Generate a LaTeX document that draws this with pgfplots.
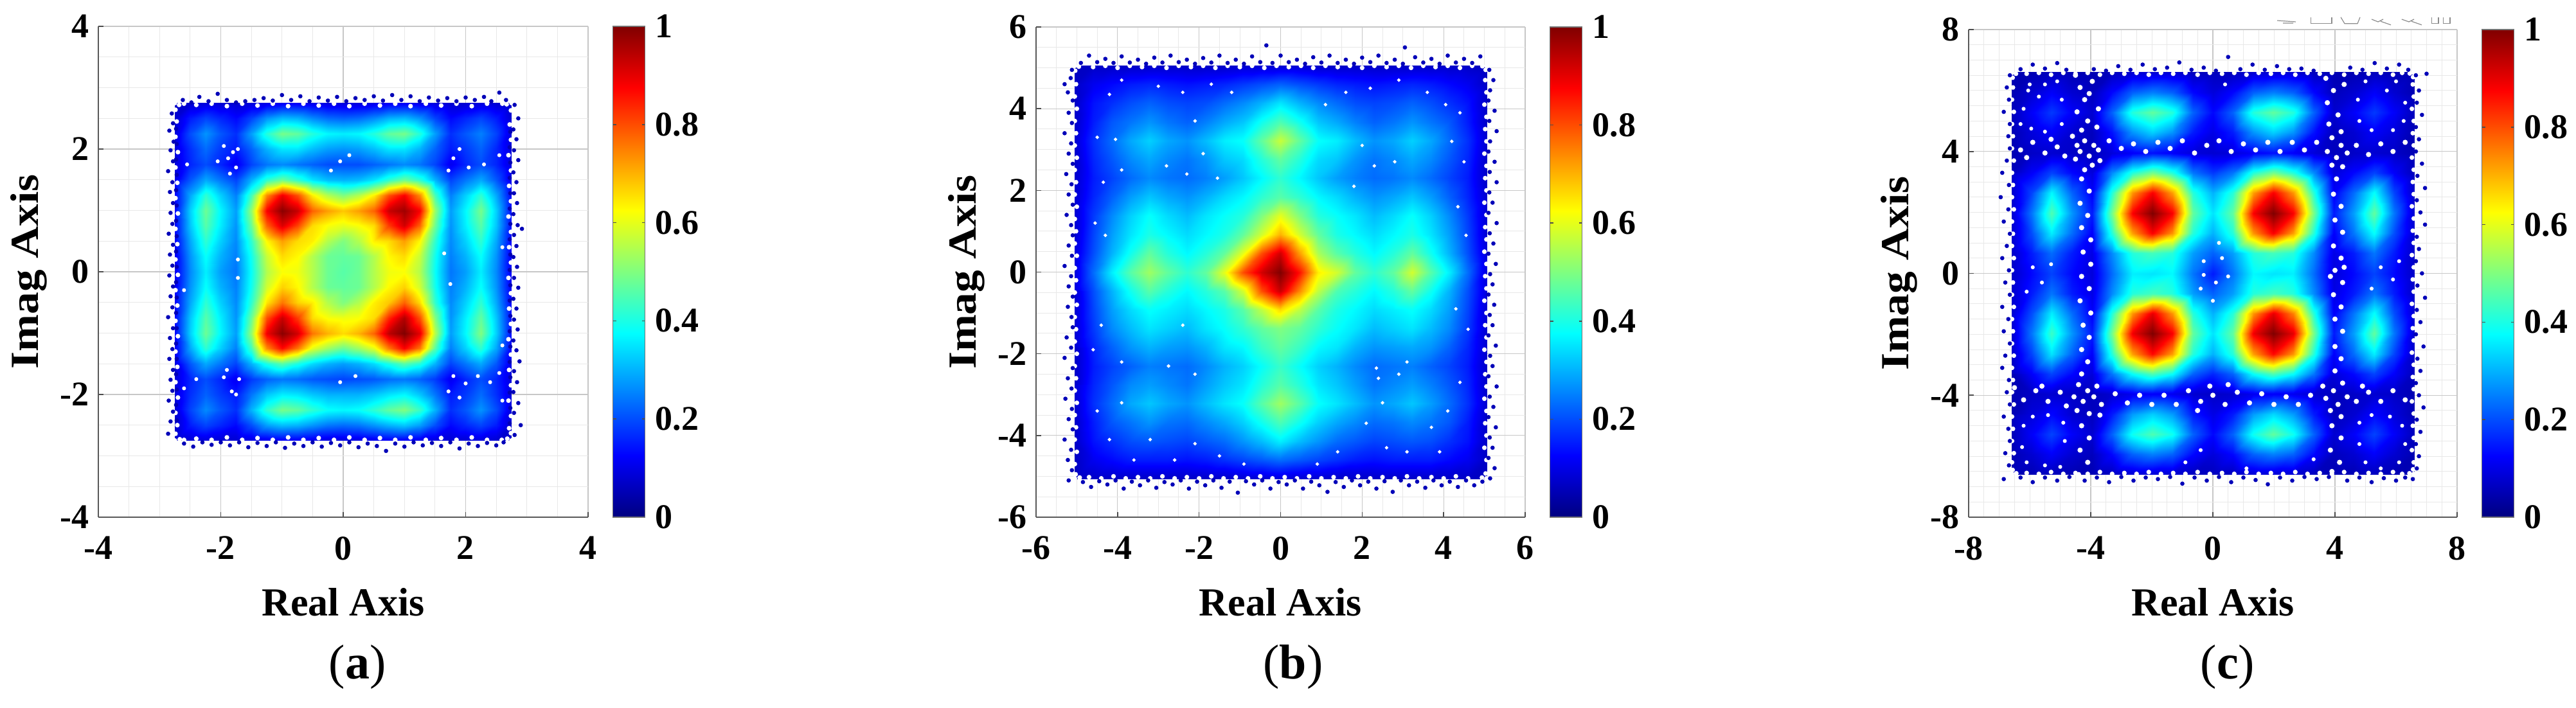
\documentclass[border=0pt]{standalone}
\usepackage{fontspec}
\setmainfont{Liberation Serif}
\usepackage{pgfplots}
\pgfplotsset{compat=1.18}
\pgfkeys{/pgf/number format/assume math mode=true}
\definecolor{edge}{rgb}{0,0,0.72}
\newcommand{\tickf}{\bfseries\fontsize{13.5}{14}\selectfont}
\newcommand{\labf}{\bfseries\fontsize{15.5}{16}\selectfont}
\pgfplotsset{
  every tick label/.append style={font=\tickf},
  cons/.style={
    scale only axis, colormap/jet, point meta min=0, point meta max=1,
    axis x line*=bottom, axis y line*=left,
    axis line style={black!65, line width=0.55pt},
    tick style={black!70, line width=0.4pt}, tick align=inside,
    major tick length=2pt, minor tick length=0pt,
    grid=both, major grid style={black!22, line width=0.3pt},
    minor grid style={black!9, line width=0.25pt},
    xlabel={Real Axis}, ylabel={\scalebox{1.12}[1]{Imag Axis}},
    every axis x label/.style={at={(axis description cs:0.5,0)},anchor=center,yshift=-33pt,font=\labf},
    every axis y label/.style={at={(axis description cs:0,0.5)},rotate=90,anchor=center,yshift=27pt,font=\labf},
    xticklabel style={yshift=-4pt},
    colorbar,
    colorbar style={at={(1.051,1)}, anchor=north west, width=12.5pt,
      ytick={0,0.2,0.4,0.6,0.8,1}, major tick length=1.2pt, tick align=inside,
      axis line style={black!55, line width=0.3pt},
      yticklabel style={xshift=0.5pt,/pgf/number format/fixed,/pgf/number format/precision=1}},
  },
  dots/.style={only marks, mark=*, mark size=0.62pt, color=edge, mark options={draw=none}},
  specks/.style={only marks, mark=*, mark size=0.55pt, color=white, mark options={draw=none}},
}
\begin{document}
\begin{tikzpicture}[x=1pt,y=1pt]
\path[use as bounding box] (0,0) rectangle (1002,275.5);

% (a) grid step 0.25, rows from y=2.75 down to -2.75
\begin{axis}[cons, at={(38.25pt,74.25pt)}, anchor=south west, width=190.5pt, height=191pt,
  xmin=-4, xmax=4, ymin=-4, ymax=4, xtick={-4,-2,0,2,4}, ytick={-4,-2,0,2,4}, minor tick num=3]
\addplot[surf, shader=interp, mesh/cols=23, point meta=explicit] table[row sep=crcr, header=false, meta index=0,
  x expr={-2.75+0.25*mod(\coordindex,23)}, y expr={2.75-0.25*floor(\coordindex/23)}] {
.07\\.08\\.09\\.08\\.08\\.09\\.10\\.11\\.11\\.10\\.09\\.09\\.09\\.10\\.11\\.11\\.10\\.09\\.08\\.08\\.09\\.08\\.07\\
.08\\.15\\.19\\.16\\.13\\.19\\.27\\.31\\.30\\.26\\.23\\.22\\.23\\.26\\.30\\.31\\.27\\.19\\.13\\.16\\.19\\.15\\.08\\
.09\\.20\\.27\\.21\\.17\\.28\\.41\\.49\\.47\\.41\\.37\\.36\\.37\\.41\\.47\\.49\\.41\\.28\\.17\\.21\\.25\\.19\\.09\\
.09\\.17\\.23\\.18\\.15\\.22\\.30\\.35\\.35\\.31\\.28\\.27\\.28\\.31\\.35\\.35\\.30\\.22\\.15\\.18\\.22\\.16\\.09\\
.09\\.16\\.20\\.16\\.11\\.19\\.24\\.26\\.24\\.22\\.20\\.20\\.20\\.22\\.24\\.26\\.24\\.19\\.11\\.16\\.20\\.16\\.09\\
.10\\.21\\.29\\.24\\.19\\.30\\.42\\.48\\.42\\.35\\.31\\.30\\.31\\.35\\.42\\.48\\.42\\.30\\.19\\.24\\.29\\.21\\.10\\
.12\\.29\\.42\\.33\\.25\\.44\\.74\\.89\\.80\\.64\\.55\\.50\\.55\\.64\\.80\\.88\\.74\\.44\\.25\\.33\\.42\\.29\\.12\\
.13\\.33\\.48\\.37\\.28\\.52\\.88\\.99\\.93\\.78\\.72\\.68\\.72\\.78\\.93\\.97\\.88\\.52\\.28\\.37\\.49\\.33\\.13\\
.13\\.32\\.46\\.36\\.27\\.48\\.78\\.91\\.81\\.66\\.62\\.60\\.62\\.66\\.82\\.92\\.78\\.48\\.27\\.36\\.46\\.32\\.13\\
.12\\.29\\.42\\.33\\.26\\.42\\.63\\.72\\.66\\.64\\.55\\.50\\.55\\.64\\.66\\.72\\.63\\.42\\.26\\.33\\.42\\.29\\.12\\
.11\\.27\\.38\\.30\\.25\\.39\\.57\\.66\\.63\\.55\\.48\\.47\\.48\\.55\\.63\\.66\\.57\\.39\\.25\\.30\\.38\\.27\\.11\\
.11\\.26\\.36\\.28\\.24\\.38\\.55\\.62\\.61\\.55\\.48\\.46\\.48\\.55\\.61\\.62\\.55\\.38\\.24\\.28\\.36\\.26\\.11\\
.11\\.27\\.38\\.30\\.25\\.39\\.58\\.67\\.63\\.55\\.48\\.47\\.48\\.55\\.63\\.67\\.58\\.39\\.25\\.30\\.38\\.27\\.11\\
.12\\.29\\.42\\.33\\.26\\.42\\.65\\.76\\.67\\.64\\.55\\.50\\.55\\.64\\.68\\.78\\.66\\.42\\.26\\.33\\.42\\.29\\.12\\
.13\\.32\\.46\\.36\\.27\\.48\\.80\\.93\\.82\\.66\\.62\\.61\\.62\\.66\\.84\\.95\\.80\\.50\\.27\\.36\\.47\\.32\\.13\\
.13\\.33\\.48\\.37\\.28\\.52\\.89\\.99\\.92\\.76\\.70\\.66\\.70\\.78\\.94\\1.0\\.90\\.55\\.28\\.37\\.50\\.33\\.13\\
.12\\.29\\.42\\.33\\.25\\.44\\.74\\.87\\.76\\.60\\.53\\.48\\.53\\.60\\.76\\.88\\.76\\.46\\.25\\.33\\.42\\.29\\.12\\
.10\\.21\\.29\\.24\\.19\\.30\\.40\\.46\\.40\\.34\\.30\\.28\\.30\\.34\\.40\\.46\\.41\\.30\\.19\\.24\\.29\\.21\\.10\\
.09\\.16\\.20\\.16\\.11\\.18\\.22\\.24\\.23\\.21\\.20\\.19\\.20\\.21\\.23\\.24\\.22\\.18\\.11\\.16\\.20\\.16\\.09\\
.09\\.17\\.22\\.18\\.15\\.24\\.32\\.36\\.35\\.32\\.30\\.30\\.30\\.32\\.35\\.37\\.32\\.24\\.15\\.18\\.23\\.17\\.09\\
.09\\.19\\.26\\.21\\.17\\.30\\.42\\.49\\.47\\.42\\.38\\.37\\.38\\.42\\.47\\.50\\.43\\.30\\.17\\.21\\.27\\.20\\.09\\
.08\\.15\\.19\\.16\\.13\\.20\\.28\\.31\\.30\\.27\\.24\\.23\\.24\\.27\\.30\\.32\\.28\\.20\\.13\\.16\\.19\\.15\\.08\\
.07\\.08\\.09\\.08\\.08\\.09\\.10\\.11\\.11\\.10\\.09\\.09\\.09\\.10\\.11\\.11\\.10\\.09\\.08\\.08\\.09\\.08\\.07\\
};
\addplot[specks, mark size=0.7pt] coordinates {(-2.75,2.75)(-2.68,2.72)(-2.74,2.64)(-2.6,2.74)(2.75,2.75)(2.67,2.73)(2.74,2.63)(2.6,2.74)(-2.75,-2.75)(-2.67,-2.73)(-2.74,-2.64)(-2.6,-2.74)(2.75,-2.75)(2.68,-2.72)(2.74,-2.63)(2.59,-2.74)
(-2.72,2.45)(-2.74,2.2)(-2.7,1.95)(-2.74,1.7)(-2.71,1.45)(-2.74,1.2)(-2.7,0.95)(-2.74,0.7)(-2.71,0.45)(-2.74,0.2)(-2.7,-0.05)(-2.74,-0.3)(-2.71,-0.55)(-2.74,-0.8)(-2.7,-1.05)(-2.74,-1.3)(-2.71,-1.55)(-2.74,-1.8)(-2.7,-2.05)(-2.74,-2.3)(-2.71,-2.5)
(2.72,2.4)(2.74,2.15)(2.7,1.9)(2.74,1.65)(2.71,1.4)(2.74,1.15)(2.7,0.9)(2.74,0.65)(2.71,0.4)(2.74,0.15)(2.7,-0.1)(2.74,-0.35)(2.71,-0.6)(2.74,-0.85)(2.7,-1.1)(2.74,-1.35)(2.71,-1.6)(2.74,-1.85)(2.7,-2.1)(2.74,-2.35)(2.71,-2.55)
(-2.4,2.72)(-2.15,2.74)(-1.9,2.7)(-1.65,2.74)(-1.4,2.71)(-1.15,2.74)(-0.9,2.7)(-0.65,2.74)(-0.4,2.71)(-0.15,2.74)(0.1,2.7)(0.35,2.74)(0.6,2.71)(0.85,2.74)(1.1,2.7)(1.35,2.74)(1.6,2.71)(1.85,2.74)(2.1,2.7)(2.35,2.74)
(-2.4,-2.72)(-2.15,-2.74)(-1.9,-2.7)(-1.65,-2.74)(-1.4,-2.71)(-1.15,-2.74)(-0.9,-2.7)(-0.65,-2.74)(-0.4,-2.71)(-0.15,-2.74)(0.1,-2.7)(0.35,-2.74)(0.6,-2.71)(0.85,-2.74)(1.1,-2.7)(1.35,-2.74)(1.6,-2.71)(1.85,-2.74)(2.1,-2.7)(2.35,-2.74)};
\addplot[specks] coordinates {(-1.88,1.85)(-1.75,1.7)(-1.8,1.95)(-1.72,2.0)(-2.05,1.8)(-1.85,1.6)(-1.95,2.05)(-1.7,-1.75)(-1.82,-1.95)(-1.95,-1.72)(-1.75,-2)(-1.9,-1.6)(-2.4,-1.75)(-2.6,-1.9)(-2.55,1.75)
(1.8,1.85)(2.05,1.7)(1.9,2.0)(2.3,1.75)(2.55,1.9)(1.72,1.65)(1.8,-1.7)(2.0,-1.82)(2.2,-1.7)(1.9,-2.05)(2.4,-1.8)(2.55,-1.65)(2.6,-2.1)(1.72,-1.95)
(-0.05,1.8)(-0.2,1.65)(0.1,1.9)(-0.05,-1.8)(0.2,-1.7)(-1.72,-0.1)(1.75,-0.2)(1.65,0.3)(-1.72,0.2)(2.6,-1.2)(-2.6,-0.3)(2.6,0.4)};
\addplot[dots] coordinates {(-2.8,2.58)(-2.78,2.42)(-2.84,2.3)(-2.77,2.12)(-2.82,1.98)(-2.78,1.8)(-2.86,1.64)(-2.79,1.46)(-2.83,1.3)(-2.78,1.12)(-2.82,0.96)(-2.79,0.78)(-2.85,0.62)(-2.78,0.44)(-2.83,0.28)(-2.79,0.1)(-2.84,-0.06)(-2.78,-0.24)(-2.82,-0.4)(-2.79,-0.58)(-2.86,-0.74)(-2.78,-0.92)(-2.83,-1.08)(-2.79,-1.26)(-2.84,-1.42)(-2.78,-1.6)(-2.82,-1.76)(-2.79,-1.94)(-2.85,-2.1)(-2.78,-2.28)(-2.82,-2.44)(-2.86,-2.64)
(-2.6,-2.8)(-2.45,-2.85)(-2.3,-2.78)(-2.15,-2.82)(-2,-2.78)(-1.85,-2.83)(-1.7,-2.78)(-1.55,-2.86)(-1.4,-2.79)(-1.25,-2.84)(-1.1,-2.78)(-0.95,-2.87)(-0.8,-2.8)(-0.65,-2.84)(-0.5,-2.78)(-0.35,-2.85)(-0.2,-2.79)(-0.05,-2.83)(0.1,-2.78)(0.25,-2.86)(0.4,-2.8)(0.55,-2.84)(0.7,-2.92)(0.85,-2.8)(1,-2.85)(1.15,-2.78)(1.3,-2.83)(1.45,-2.79)(1.6,-2.84)(1.75,-2.78)(1.9,-2.88)(2.05,-2.8)(2.2,-2.84)(2.35,-2.79)(2.5,-2.83)(2.62,-2.78)
(2.8,2.72)(2.86,2.5)(2.78,2.32)(2.83,2.16)(2.79,1.98)(2.86,1.82)(2.78,1.62)(2.83,1.46)(2.79,1.28)(2.84,1.12)(2.78,0.94)(2.85,0.76)(2.79,0.6)(2.83,0.42)(2.92,0.7)(2.78,0.24)(2.84,0.08)(2.79,-0.1)(2.86,-0.26)(2.78,-0.44)(2.83,-0.6)(2.79,-0.78)(2.85,-0.94)(2.78,-1.12)(2.83,-1.28)(2.88,-1.46)(2.79,-1.62)(2.84,-1.8)(2.78,-1.96)(2.86,-2.14)(2.79,-2.3)(2.9,-2.5)(2.8,-2.66)
(-2.62,2.8)(-2.48,2.76)(-2.35,2.85)(-2.2,2.78)(-2.05,2.9)(-1.9,2.8)(-1.75,2.76)(-1.6,2.78)(-1.45,2.8)(-1.3,2.83)(-1.15,2.79)(-1,2.88)(-0.85,2.8)(-0.7,2.86)(-0.55,2.78)(-0.4,2.84)(-0.25,2.79)(-0.1,2.85)(0.05,2.78)(0.2,2.83)(0.35,2.8)(0.5,2.86)(0.65,2.79)(0.8,2.88)(0.95,2.8)(1.1,2.86)(1.25,2.78)(1.4,2.84)(1.55,2.79)(1.7,2.83)(1.85,2.78)(2,2.84)(2.15,2.8)(2.3,2.85)(2.42,2.78)(2.55,2.92)(2.66,2.8)
(-2.73,2.33)(-2.72,2.08)(-2.73,1.83)(-2.72,1.58)(-2.73,1.33)(-2.72,1.08)(-2.73,0.83)(-2.72,0.58)(-2.73,0.33)(-2.72,0.08)(-2.73,-0.17)(-2.72,-0.42)(-2.73,-0.67)(-2.72,-0.92)(-2.73,-1.17)(-2.72,-1.42)(-2.73,-1.67)(-2.72,-1.92)(-2.73,-2.17)(-2.72,-2.42)
(2.73,2.28)(2.72,2.03)(2.73,1.78)(2.72,1.53)(2.73,1.28)(2.72,1.03)(2.73,0.78)(2.72,0.53)(2.73,0.28)(2.72,0.03)(2.73,-0.22)(2.72,-0.47)(2.73,-0.72)(2.72,-0.97)(2.73,-1.22)(2.72,-1.47)(2.73,-1.72)(2.72,-1.97)(2.73,-2.22)(2.72,-2.47)};
\end{axis}
\node[font=\fontsize{19}{20}\selectfont] at (139,16) {(\textbf{a})};

% (b) grid step 0.46, rows from y=5.06 down to -5.06
\begin{axis}[cons, at={(403pt,74.25pt)}, anchor=south west, width=190.25pt, height=190.75pt,
  xmin=-6, xmax=6, ymin=-6, ymax=6, xtick={-6,-4,-2,0,2,4,6}, ytick={-6,-4,-2,0,2,4,6}, minor tick num=3]
\addplot[surf, shader=interp, mesh/cols=23, point meta=explicit] table[row sep=crcr, header=false, meta index=0,
  x expr={-5.06+0.46*mod(\coordindex,23)}, y expr={5.06-0.46*floor(\coordindex/23)}] {
.06\\.07\\.07\\.07\\.07\\.07\\.07\\.07\\.07\\.08\\.08\\.08\\.08\\.07\\.07\\.07\\.07\\.07\\.07\\.07\\.07\\.07\\.06\\
.07\\.11\\.13\\.15\\.16\\.15\\.14\\.15\\.16\\.18\\.20\\.22\\.20\\.18\\.16\\.15\\.14\\.15\\.16\\.15\\.13\\.11\\.07\\
.07\\.14\\.17\\.20\\.22\\.20\\.19\\.20\\.23\\.26\\.30\\.35\\.30\\.26\\.23\\.20\\.19\\.20\\.22\\.20\\.17\\.14\\.07\\
.07\\.15\\.21\\.24\\.27\\.24\\.22\\.25\\.29\\.32\\.39\\.45\\.39\\.32\\.29\\.25\\.22\\.24\\.27\\.24\\.21\\.15\\.07\\
.08\\.17\\.23\\.29\\.33\\.29\\.27\\.31\\.36\\.38\\.47\\.57\\.47\\.38\\.36\\.31\\.27\\.29\\.33\\.29\\.23\\.17\\.08\\
.07\\.16\\.21\\.26\\.29\\.26\\.24\\.27\\.32\\.34\\.41\\.47\\.41\\.34\\.32\\.27\\.24\\.26\\.29\\.26\\.21\\.16\\.07\\
.07\\.15\\.19\\.23\\.26\\.24\\.23\\.25\\.28\\.32\\.37\\.42\\.37\\.32\\.28\\.25\\.23\\.24\\.26\\.23\\.19\\.15\\.07\\
.08\\.16\\.22\\.28\\.32\\.29\\.27\\.30\\.34\\.37\\.42\\.46\\.42\\.37\\.34\\.30\\.27\\.29\\.32\\.28\\.22\\.16\\.08\\
.08\\.18\\.26\\.33\\.38\\.34\\.31\\.35\\.38\\.41\\.50\\.60\\.50\\.41\\.38\\.35\\.31\\.34\\.38\\.33\\.26\\.18\\.08\\
.08\\.19\\.28\\.35\\.40\\.37\\.34\\.37\\.40\\.47\\.58\\.70\\.58\\.47\\.40\\.37\\.34\\.37\\.40\\.35\\.28\\.19\\.08\\
.09\\.20\\.30\\.39\\.47\\.41\\.37\\.41\\.47\\.60\\.80\\.92\\.72\\.54\\.46\\.41\\.37\\.41\\.47\\.39\\.30\\.20\\.09\\
.09\\.23\\.36\\.46\\.53\\.47\\.42\\.47\\.60\\.80\\.92\\1.0\\.86\\.64\\.58\\.47\\.42\\.47\\.58\\.46\\.36\\.23\\.09\\
.09\\.20\\.30\\.39\\.46\\.41\\.37\\.41\\.46\\.58\\.80\\.93\\.74\\.56\\.45\\.41\\.37\\.41\\.47\\.39\\.30\\.20\\.09\\
.08\\.19\\.28\\.34\\.38\\.36\\.34\\.37\\.40\\.46\\.56\\.66\\.56\\.46\\.40\\.37\\.34\\.36\\.38\\.34\\.28\\.19\\.08\\
.08\\.18\\.26\\.31\\.35\\.33\\.31\\.35\\.38\\.42\\.47\\.50\\.47\\.42\\.38\\.35\\.31\\.33\\.35\\.31\\.26\\.18\\.08\\
.08\\.16\\.22\\.27\\.30\\.28\\.27\\.30\\.35\\.37\\.43\\.47\\.43\\.37\\.35\\.30\\.27\\.28\\.29\\.27\\.22\\.16\\.08\\
.07\\.15\\.19\\.22\\.25\\.24\\.23\\.26\\.30\\.33\\.38\\.43\\.38\\.33\\.30\\.26\\.23\\.24\\.25\\.22\\.19\\.15\\.07\\
.07\\.16\\.21\\.26\\.28\\.26\\.24\\.28\\.32\\.35\\.41\\.46\\.41\\.35\\.32\\.28\\.24\\.26\\.28\\.25\\.21\\.16\\.07\\
.08\\.17\\.23\\.29\\.32\\.29\\.27\\.31\\.35\\.38\\.46\\.53\\.46\\.38\\.35\\.31\\.27\\.29\\.32\\.28\\.23\\.17\\.08\\
.07\\.15\\.21\\.24\\.27\\.24\\.23\\.26\\.29\\.33\\.39\\.45\\.39\\.33\\.29\\.26\\.23\\.24\\.26\\.24\\.21\\.15\\.07\\
.07\\.14\\.17\\.20\\.21\\.20\\.19\\.21\\.23\\.27\\.31\\.36\\.31\\.27\\.23\\.21\\.19\\.20\\.21\\.20\\.17\\.14\\.07\\
.07\\.11\\.13\\.15\\.15\\.15\\.14\\.15\\.17\\.19\\.21\\.23\\.21\\.19\\.17\\.15\\.14\\.15\\.15\\.15\\.13\\.11\\.07\\
.06\\.07\\.07\\.07\\.07\\.07\\.07\\.07\\.07\\.08\\.08\\.09\\.08\\.08\\.07\\.07\\.07\\.07\\.07\\.07\\.07\\.07\\.06\\
};
\addplot[specks, mark size=0.7pt] coordinates {(-5.05,5.05)(-4.95,5.03)(-5.04,4.93)(4.95,5.04)(5.05,5.05)(5.03,4.95)(-5.05,-5.05)(-4.93,-5.03)(-5.03,-4.95)(5.05,-5.05)(4.94,-5.03)(5.03,-4.93)
(-5.02,4.6)(-5.05,4.3)(-5,4)(-5.05,3.7)(-5.02,3.4)(-5.05,3.1)(-5,2.8)(-5.05,2.5)(-5.02,2.2)(-5.05,1.9)(-5,1.6)(-5.05,1.3)(-5.02,1)(-5.05,0.7)(-5,0.4)(-5.05,0.1)(-5.02,-0.2)(-5.05,-0.5)(-5,-0.8)(-5.05,-1.1)(-5.02,-1.4)(-5.05,-1.7)(-5,-2)(-5.05,-2.3)(-5.02,-2.6)(-5.05,-2.9)(-5,-3.2)(-5.05,-3.5)(-5.02,-3.8)(-5.05,-4.1)(-5,-4.4)(-5.05,-4.7)
(5.02,4.7)(5.05,4.4)(5,4.1)(5.05,3.8)(5.02,3.5)(5.05,3.2)(5,2.9)(5.05,2.6)(5.02,2.3)(5.05,2)(5,1.7)(5.05,1.4)(5.02,1.1)(5.05,0.8)(5,0.5)(5.05,0.2)(5.02,-0.1)(5.05,-0.4)(5,-0.7)(5.05,-1)(5.02,-1.3)(5.05,-1.6)(5,-1.9)(5.05,-2.2)(5.02,-2.5)(5.05,-2.8)(5,-3.1)(5.05,-3.4)(5.02,-3.7)(5.05,-4)(5,-4.3)(5.05,-4.6)
(-4.6,5.02)(-4.3,5.05)(-4,5)(-3.7,5.05)(-3.4,5.02)(-3.1,5.05)(-2.8,5)(-2.5,5.05)(-2.2,5.02)(-1.9,5.05)(-1.6,5)(-1.3,5.05)(-1,5.02)(-0.7,5.05)(-0.4,5)(-0.1,5.05)(0.2,5.02)(0.5,5.05)(0.8,5)(1.1,5.05)(1.4,5.02)(1.7,5.05)(2,5)(2.3,5.05)(2.6,5.02)(2.9,5.05)(3.2,5)(3.5,5.05)(3.8,5.02)(4.1,5.05)(4.4,5)(4.7,5.05)
(-4.7,-5.02)(-4.4,-5.05)(-4.1,-5)(-3.8,-5.05)(-3.5,-5.02)(-3.2,-5.05)(-2.9,-5)(-2.6,-5.05)(-2.3,-5.02)(-2,-5.05)(-1.7,-5)(-1.4,-5.05)(-1.1,-5.02)(-0.8,-5.05)(-0.5,-5)(-0.2,-5.05)(0.1,-5.02)(0.4,-5.05)(0.7,-5)(1,-5.05)(1.3,-5.02)(1.6,-5.05)(1.9,-5)(2.2,-5.05)(2.5,-5.02)(2.8,-5.05)(3.1,-5)(3.4,-5.05)(3.7,-5.02)(4,-5.05)(4.3,-5)(4.6,-5.05)};
\addplot[specks, mark size=0.45pt] coordinates {(-4.2,4.35)(-4.5,3.3)(-4.05,3.25)(-3.9,4.7)(-3,4.55)(-2.4,4.4)(-2.1,3.7)(-1.7,4.6)(-1.2,4.4)(1.1,4.1)(1.6,4.4)(2.2,4.5)(2.9,4.7)(3.6,4.4)(4.05,4.1)(4.4,3.9)(4.2,3.2)(4.5,2.7)(2.8,2.7)(2.3,2.6)(2,3.1)(1.8,2.1)
(-3.9,2.5)(-4.35,2.2)(-2.8,2.6)(-2.3,2.4)(-1.9,2.9)(-1.55,2.3)(-4.55,1.2)(-4.3,0.9)(4.35,1.6)(4.55,0.9)(4.3,-0.9)(4.6,-1.4)(-4.4,-1.3)(-4.6,-1.9)(-3.9,-2.2)(-2.4,-1.3)(-2.75,-2.3)(-2.1,-2.5)
(2.4,-2.6)(2.5,-3.2)(2.35,-2.35)(2.9,-2.5)(3.1,-2.2)(2.1,-3.7)(2.6,-4.3)(3.1,-4.4)(3.7,-3.8)(4.1,-3.4)(4.4,-2.7)(3.9,-4.4)(-3.6,-4.6)(-3.2,-4.1)(-2.6,-4.6)(-2.1,-4.2)(-1.5,-4.5)(-4.2,-4.1)(-4.5,-3.4)(-3.9,-3.2)(1.4,-4.4)(0.9,-4.7)(-0.9,-4.7)};
\addplot[dots] coordinates {(-5.12,4.95)(-5.3,4.6)(-5.15,4.75)(-5.22,4.4)(-5.1,4.2)(-5.2,3.9)(-5.12,3.65)(-5.3,3.4)(-5.14,3.15)(-5.2,2.9)(-5.1,2.65)(-5.26,2.4)(-5.13,2.15)(-5.2,1.9)(-5.1,1.65)(-5.25,1.4)(-5.14,1.15)(-5.1,0.9)(-5.2,0.65)(-5.12,0.4)(-5.3,0.15)(-5.14,-0.1)(-5.2,-0.35)(-5.1,-0.6)(-5.22,-0.85)(-5.13,-1.1)(-5.1,-1.35)(-5.25,-1.6)(-5.14,-1.85)(-5.3,-2.1)(-5.1,-2.35)(-5.22,-2.6)(-5.13,-2.85)(-5.28,-3.1)(-5.12,-3.35)(-5.2,-3.6)(-5.1,-3.85)(-5.3,-4.1)(-5.14,-4.35)(-5.22,-4.6)(-5.12,-4.85)(-5.2,-5.1)
(5.12,4.95)(5.22,4.7)(5.14,4.45)(5.1,4.2)(5.25,3.95)(5.12,3.7)(5.3,3.45)(5.14,3.2)(5.1,2.95)(5.25,2.7)(5.13,2.45)(5.3,2.2)(5.12,1.95)(5.2,1.7)(5.1,1.45)(5.3,1.2)(5.13,0.95)(5.22,0.7)(5.1,0.45)(5.28,0.2)(5.14,-0.05)(5.2,-0.3)(5.1,-0.55)(5.24,-0.8)(5.13,-1.05)(5.2,-1.3)(5.1,-1.55)(5.28,-1.8)(5.14,-2.05)(5.2,-2.3)(5.1,-2.55)(5.3,-2.8)(5.13,-3.05)(5.22,-3.3)(5.1,-3.55)(5.28,-3.8)(5.13,-4.05)(5.2,-4.3)(5.1,-4.55)(5.25,-4.8)(5.14,-5.05)
(-4.9,5.12)(-4.7,5.3)(-4.5,5.14)(-4.3,5.22)(-4.1,5.12)(-3.9,5.28)(-3.7,5.13)(-3.5,5.2)(-3.3,5.1)(-3.1,5.25)(-2.9,5.13)(-2.7,5.3)(-2.5,5.14)(-2.3,5.2)(-2.1,5.1)(-1.9,5.24)(-1.7,5.13)(-1.5,5.3)(-1.3,5.12)(-1.1,5.2)(-0.9,5.1)(-0.7,5.28)(-0.5,5.14)(-0.35,5.55)(-0.2,5.12)(0,5.3)(0.2,5.14)(0.4,5.2)(0.6,5.1)(0.8,5.26)(1,5.13)(1.2,5.3)(1.4,5.12)(1.6,5.2)(1.8,5.1)(2,5.25)(2.2,5.14)(2.4,5.3)(2.6,5.12)(2.8,5.2)(3,5.1)(3.05,5.5)(3.3,5.26)(3.5,5.13)(3.7,5.22)(3.9,5.1)(4.1,5.3)(4.3,5.13)(4.5,5.22)(4.7,5.12)(4.9,5.28)
(-4.85,-5.14)(-4.65,-5.26)(-4.45,-5.12)(-4.25,-5.2)(-4.05,-5.1)(-3.85,-5.3)(-3.65,-5.13)(-3.45,-5.22)(-3.25,-5.1)(-3.05,-5.28)(-2.85,-5.14)(-2.65,-5.2)(-2.45,-5.1)(-2.25,-5.3)(-2.05,-5.13)(-1.85,-5.22)(-1.65,-5.1)(-1.45,-5.28)(-1.25,-5.13)(-1.05,-5.4)(-0.85,-5.12)(-0.65,-5.2)(-0.45,-5.1)(-0.25,-5.3)(-0.05,-5.14)(0.15,-5.2)(0.35,-5.1)(0.55,-5.3)(0.75,-5.13)(0.95,-5.22)(1.15,-5.38)(1.35,-5.14)(1.55,-5.26)(1.75,-5.1)(1.95,-5.22)(2.15,-5.13)(2.35,-5.3)(2.55,-5.12)(2.75,-5.38)(2.95,-5.1)(3.15,-5.22)(3.35,-5.13)(3.55,-5.28)(3.75,-5.1)(3.95,-5.22)(4.15,-5.13)(4.35,-5.26)(4.55,-5.1)(4.75,-5.22)(4.95,-5.13)};
\end{axis}
\node[font=\fontsize{19}{20}\selectfont] at (503,16) {(\textbf{b})};

% (c) grid step 0.66, rows from y=6.6 down to -6.6
\begin{axis}[cons, at={(765.75pt,74.25pt)}, anchor=south west, width=190pt, height=189.75pt,
  xmin=-8, xmax=8, ymin=-8, ymax=8, xtick={-8,-4,0,4,8}, ytick={-8,-4,0,4,8}, minor tick num=7]
\addplot[surf, shader=interp, mesh/cols=21, point meta=explicit] table[row sep=crcr, header=false, meta index=0,
  x expr={-6.6+0.66*mod(\coordindex,21)}, y expr={6.6-0.66*floor(\coordindex/21)}] {
.05\\.05\\.06\\.05\\.05\\.06\\.08\\.08\\.08\\.06\\.06\\.06\\.08\\.08\\.08\\.06\\.05\\.05\\.06\\.05\\.05\\
.05\\.08\\.12\\.08\\.06\\.13\\.22\\.25\\.22\\.13\\.09\\.13\\.22\\.25\\.22\\.13\\.06\\.08\\.12\\.08\\.05\\
.06\\.12\\.18\\.12\\.08\\.22\\.41\\.47\\.41\\.22\\.13\\.22\\.41\\.47\\.41\\.22\\.08\\.12\\.18\\.12\\.06\\
.05\\.09\\.12\\.08\\.06\\.14\\.27\\.33\\.27\\.15\\.10\\.15\\.27\\.33\\.27\\.14\\.06\\.08\\.12\\.09\\.05\\
.05\\.07\\.08\\.07\\.06\\.09\\.12\\.14\\.12\\.09\\.08\\.09\\.12\\.14\\.12\\.09\\.06\\.07\\.08\\.07\\.05\\
.06\\.12\\.19\\.13\\.09\\.26\\.41\\.49\\.41\\.24\\.18\\.24\\.41\\.49\\.41\\.26\\.09\\.13\\.19\\.12\\.06\\
.07\\.19\\.37\\.22\\.12\\.41\\.73\\.88\\.72\\.41\\.30\\.41\\.72\\.88\\.73\\.41\\.12\\.23\\.38\\.19\\.07\\
.08\\.24\\.45\\.27\\.15\\.49\\.88\\1.0\\.88\\.47\\.35\\.47\\.88\\1.0\\.88\\.49\\.15\\.28\\.47\\.24\\.08\\
.08\\.20\\.36\\.23\\.12\\.41\\.72\\.88\\.73\\.41\\.30\\.41\\.73\\.88\\.72\\.41\\.12\\.24\\.38\\.20\\.08\\
.07\\.15\\.23\\.15\\.10\\.26\\.41\\.44\\.41\\.28\\.22\\.28\\.41\\.44\\.41\\.26\\.10\\.15\\.24\\.15\\.07\\
.07\\.13\\.19\\.13\\.09\\.23\\.36\\.35\\.37\\.24\\.15\\.24\\.37\\.35\\.36\\.23\\.09\\.13\\.19\\.13\\.07\\
.07\\.15\\.24\\.15\\.10\\.26\\.41\\.44\\.41\\.28\\.22\\.28\\.41\\.44\\.41\\.26\\.10\\.15\\.24\\.15\\.07\\
.08\\.20\\.36\\.23\\.12\\.41\\.73\\.90\\.73\\.41\\.30\\.41\\.73\\.90\\.75\\.41\\.12\\.24\\.38\\.20\\.08\\
.08\\.24\\.43\\.27\\.15\\.49\\.89\\1.0\\.88\\.47\\.35\\.47\\.89\\1.0\\.90\\.49\\.15\\.28\\.47\\.24\\.08\\
.07\\.19\\.35\\.22\\.12\\.41\\.72\\.87\\.72\\.41\\.30\\.41\\.72\\.87\\.73\\.41\\.12\\.23\\.36\\.19\\.07\\
.06\\.12\\.19\\.13\\.09\\.24\\.38\\.45\\.38\\.22\\.16\\.22\\.38\\.45\\.38\\.24\\.09\\.13\\.19\\.12\\.06\\
.05\\.07\\.08\\.07\\.06\\.08\\.11\\.12\\.11\\.08\\.07\\.08\\.11\\.12\\.11\\.08\\.06\\.07\\.08\\.07\\.05\\
.05\\.09\\.13\\.08\\.06\\.15\\.28\\.33\\.28\\.15\\.10\\.15\\.28\\.34\\.28\\.15\\.06\\.08\\.13\\.09\\.05\\
.06\\.12\\.19\\.12\\.08\\.22\\.39\\.45\\.39\\.22\\.13\\.22\\.39\\.47\\.39\\.22\\.08\\.12\\.19\\.12\\.06\\
.05\\.08\\.12\\.08\\.06\\.13\\.22\\.25\\.22\\.13\\.09\\.13\\.22\\.25\\.22\\.13\\.06\\.08\\.12\\.08\\.05\\
.05\\.05\\.06\\.05\\.05\\.06\\.08\\.08\\.08\\.06\\.06\\.06\\.08\\.08\\.08\\.06\\.05\\.05\\.06\\.05\\.05\\
};
\addplot[specks, mark size=0.8pt] coordinates {(-4.5,6.5)(-4.35,6.1)(-4.2,5.7)(-4.45,5.3)(-4.1,5)(-4.3,4.7)(-3.95,6.3)(-3.75,5.4)(-4.05,5.9)(-3.8,4.8)
(-4.6,4.5)(-4.2,4.35)(-3.9,4.2)(-4.35,4)(-4.05,3.85)(-3.75,4.05)(-4.5,3.75)(-3.95,3.55)(-3.7,3.7)(-4.2,3.4)(-4.45,4.2)(-5.1,4.15)(-5.5,3.95)(-5.9,4.3)(-6.3,4.05)(-4.85,3.85)(-5.3,4.4)(-6.1,3.8)(-3.4,4.35)(-3,4.1)(-2.6,4.25)(-2.2,4)(-1.8,4.3)(-1.4,4.1)(-1,4.35)(-0.6,3.95)(-0.2,4.2)(0.2,4.35)(0.6,4)(1,4.25)(1.4,4.05)(1.8,4.3)(2.2,4)(2.6,4.3)(3,4.05)(3.4,4.3)
(3.7,6.4)(3.95,6)(3.75,5.6)(4.1,5.2)(3.8,4.9)(4.3,6.2)(4.2,4.65)(3.9,4.45)(4.2,4.2)(3.75,4)(4.05,3.8)(4.4,3.95)(3.9,3.55)(4.25,3.5)(4.7,4.2)(5.1,3.9)(5.5,4.25)(5.9,4)(6.3,4.3)
(-4.3,3.1)(-4.05,2.7)(-4.35,2.3)(-4.1,1.9)(-4.3,1.5)(-4,1.1)(-4.25,0.7)(-4,0.3)(-4.3,-0.1)(-4.05,-0.5)(-4.35,-0.9)(-4,-1.3)(-4.25,-1.7)(-4.05,-2.1)(-4.3,-2.5)(-4.1,-2.9)(-4.3,-3.3)
(4.05,3.1)(3.95,2.6)(4.2,2.2)(4,1.75)(4.25,1.35)(3.95,0.9)(4.2,0.5)(4,0.1)(4.25,-0.3)(3.95,-0.7)(4.2,-1.1)(4,-1.5)(4.25,-1.9)(4,-2.4)(4.2,-2.8)(4,-3.2)(4.3,0.2)(3.85,-0.1)
(-4.4,-3.65)(-4.1,-3.85)(-3.8,-3.7)(-4.55,-4.05)(-4.25,-4.2)(-3.9,-4.05)(-3.65,-4.3)(-4.45,-4.5)(-4.05,-4.6)(-3.7,-4.65)(-5,-3.9)(-5.4,-4.2)(-5.8,-3.85)(-6.2,-4.15)(-4.8,-4.35)(-6.5,-3.75)(-5.6,-3.7)
(-3.2,-3.95)(-2.8,-4.25)(-2.4,-4)(-2,-4.3)(-1.6,-4)(-1.2,-4.3)(-0.8,-3.85)(-0.4,-4.2)(0,-4)(0.4,-4.3)(0.8,-3.9)(1.2,-4.25)(1.6,-3.95)(2,-4.3)(2.4,-4.05)(2.8,-4.3)(3.2,-4)(-0.5,-4.5)(0.5,-3.65)(-0.1,-3.7)
(3.6,-3.7)(3.95,-3.85)(4.25,-3.6)(3.7,-4.1)(4.1,-4.3)(4.4,-4.05)(3.85,-4.5)(4.2,-4.7)(4.7,-4.2)(5.1,-3.9)(5.5,-4.2)(5.9,-3.85)(6.3,-4.15)(4.9,-3.7)(3.9,-5)(4.2,-5.4)(3.85,-5.8)(4.15,-6.2)(3.9,-6.5)(-4.3,-5)(-4.05,-5.4)(-4.35,-5.8)(-4.1,-6.2)(-4.4,-6.6)};
\addplot[specks, mark size=0.7pt] coordinates {(-6.58,6.58)(-6.45,6.55)(-6.56,6.42)(6.58,6.58)(6.45,6.56)(6.56,6.44)(-6.58,-6.58)(-6.44,-6.56)(-6.56,-6.45)(6.58,-6.58)(6.44,-6.56)(6.56,-6.43)
(-6.55,6.1)(-6.58,5.7)(-6.52,5.3)(-6.58,4.9)(-6.55,4.5)(-6.58,4.1)(-6.52,3.7)(-6.58,3.3)(-6.55,2.9)(-6.58,2.5)(-6.52,2.1)(-6.58,1.7)(-6.55,1.3)(-6.58,0.9)(-6.52,0.5)(-6.58,0.1)(-6.55,-0.3)(-6.58,-0.7)(-6.52,-1.1)(-6.58,-1.5)(-6.55,-1.9)(-6.58,-2.3)(-6.52,-2.7)(-6.58,-3.1)(-6.55,-3.5)(-6.58,-3.9)(-6.52,-4.3)(-6.58,-4.7)(-6.55,-5.1)(-6.58,-5.5)(-6.52,-5.9)(-6.58,-6.2)
(6.55,6.2)(6.58,5.8)(6.52,5.4)(6.58,5)(6.55,4.6)(6.58,4.2)(6.52,3.8)(6.58,3.4)(6.55,3)(6.58,2.6)(6.52,2.2)(6.58,1.8)(6.55,1.4)(6.58,1)(6.52,0.6)(6.58,0.2)(6.55,-0.2)(6.58,-0.6)(6.52,-1)(6.58,-1.4)(6.55,-1.8)(6.58,-2.2)(6.52,-2.6)(6.58,-3)(6.55,-3.4)(6.58,-3.8)(6.52,-4.2)(6.58,-4.6)(6.55,-5)(6.58,-5.4)(6.52,-5.8)(6.58,-6.2)
(-6.1,6.55)(-5.7,6.58)(-5.3,6.52)(-4.9,6.58)(-4.5,6.55)(-4.1,6.58)(-3.7,6.52)(-3.3,6.58)(-2.9,6.55)(-2.5,6.58)(-2.1,6.52)(-1.7,6.58)(-1.3,6.55)(-0.9,6.58)(-0.5,6.52)(-0.1,6.58)(0.3,6.55)(0.7,6.58)(1.1,6.52)(1.5,6.58)(1.9,6.55)(2.3,6.58)(2.7,6.52)(3.1,6.58)(3.5,6.55)(3.9,6.58)(4.3,6.52)(4.7,6.58)(5.1,6.55)(5.5,6.58)(5.9,6.52)(6.2,6.58)
(-6.1,-6.55)(-5.7,-6.58)(-5.3,-6.52)(-4.9,-6.58)(-4.5,-6.55)(-4.1,-6.58)(-3.7,-6.52)(-3.3,-6.58)(-2.9,-6.55)(-2.5,-6.58)(-2.1,-6.52)(-1.7,-6.58)(-1.3,-6.55)(-0.9,-6.58)(-0.5,-6.52)(-0.1,-6.58)(0.3,-6.55)(0.7,-6.58)(1.1,-6.52)(1.5,-6.58)(1.9,-6.55)(2.3,-6.58)(2.7,-6.52)(3.1,-6.58)(3.5,-6.55)(3.9,-6.58)(4.3,-6.52)(4.7,-6.58)(5.1,-6.55)(5.5,-6.58)(5.9,-6.52)(6.2,-6.58)};
\addplot[specks] coordinates {(-6,6.2)(-5.5,6.2)(-6.05,6)(-5.7,5.8)(-5.1,6.3)(-4.95,5.7)(-6.2,5.4)(-6.3,4.9)(-4.95,4.9)(-5.5,4.65)(-5.95,4.75)
(-6.2,-5)(-5.9,-4.7)(-5.4,-4.65)(-4.9,-4.9)(-4.85,-5.5)(-6.25,-5.7)(-6.1,-6.2)(-5.5,-6.3)(-5,-6.35)
(5,6.3)(6,6.3)(6.3,5.6)(6.25,5)(5.9,4.7)(5.2,4.7)(4.8,5)(4.75,5.7)(5.7,6)
(4.8,-4.9)(5.2,-4.65)(5.8,-4.7)(6.2,-5)(6.3,-5.6)(6.1,-6.2)(5.5,-6.4)(5,-6.2)(4.8,-5.6)
(-5.9,0.2)(-5.6,-0.3)(-6.1,-0.6)(-5.3,0.3)(5.9,-0.2)(5.5,0.2)(6.1,0.4)(5.2,-0.5)
(-0.3,0.4)(0.3,0.5)(0.1,-0.3)(-0.4,-0.5)(0.5,-0.1)(0.2,1)(0,-0.9)(-0.3,-0.05)
(0.4,6.2)(-0.9,-6.2)(-0.4,-5.8)(1.1,-6.4)(3.3,-6.1)};
\addplot[dots] coordinates {(-6.65,6.5)(-6.75,6.1)(-6.68,5.7)(-6.85,5.3)(-6.65,4.9)(-6.7,4.5)(-6.65,4.1)(-6.75,3.7)(-6.9,3.3)(-6.68,2.9)(-6.95,2.5)(-6.7,2.1)(-6.85,1.7)(-6.65,1.3)(-6.75,0.9)(-6.9,0.5)(-6.68,0.1)(-6.8,-0.3)(-6.65,-0.7)(-6.9,-1.1)(-6.7,-1.5)(-6.85,-1.9)(-6.65,-2.3)(-6.8,-2.7)(-6.9,-3.1)(-6.68,-3.5)(-6.75,-3.9)(-6.65,-4.3)(-6.85,-4.7)(-6.7,-5.1)(-6.65,-5.5)(-6.8,-5.9)(-6.68,-6.3)(-6.85,-6.75)
(6.65,6.5)(7,6.55)(6.75,6)(6.68,5.6)(6.85,5.2)(6.65,4.8)(6.75,4.4)(6.65,4)(6.85,3.6)(6.7,3.2)(6.95,2.8)(6.68,2.4)(6.8,2)(6.95,1.6)(6.68,1.2)(6.75,0.8)(6.65,0.4)(6.85,0)(6.7,-0.4)(6.95,-0.8)(6.68,-1.2)(6.8,-1.6)(6.65,-2)(6.9,-2.4)(6.7,-2.8)(6.8,-3.2)(6.65,-3.6)(6.75,-4)(6.9,-4.4)(6.68,-4.8)(6.8,-5.2)(6.65,-5.6)(6.75,-6)(6.68,-6.4)(6.55,-6.75)
(-6.3,6.7)(-5.9,6.85)(-5.5,6.72)(-5.1,6.9)(-4.8,6.68)(-3.9,6.7)(-3.5,6.65)(-3.1,6.8)(-2.7,6.68)(-2.3,6.85)(-1.9,6.7)(-1.5,6.75)(-1.1,6.92)(-0.7,6.68)(-0.3,6.75)(0.1,6.65)(0.5,7.1)(0.9,6.7)(1.3,6.85)(1.7,6.68)(2.1,6.8)(2.5,6.7)(2.9,6.72)(3.3,6.65)(4.5,6.75)(4.9,6.68)(5.3,6.9)(5.7,6.72)(6.1,6.85)(6.4,6.68)
(-6.3,-6.7)(-5.9,-6.85)(-5.5,-6.7)(-5.1,-6.8)(-4.7,-6.68)(-4.2,-6.8)(-3.8,-6.7)(-3.4,-6.85)(-3,-6.68)(-2.6,-6.8)(-2.2,-6.7)(-1.8,-6.75)(-1.4,-6.68)(-1,-6.9)(-0.6,-6.7)(-0.2,-6.8)(0.2,-6.68)(0.6,-6.85)(1,-6.7)(1.4,-6.78)(1.8,-6.92)(2.2,-6.7)(2.6,-6.8)(3,-6.68)(3.4,-6.75)(3.8,-6.68)(4.4,-6.8)(4.8,-6.7)(5.2,-6.85)(5.6,-6.72)(6,-6.8)(6.3,-6.7)};
\end{axis}
\node[font=\fontsize{19}{20}\selectfont] at (866.5,16) {(\textbf{c})};

% leftover figure toolbar at top of (c)
\begin{scope}[draw=black!45, line width=0.3pt]
\draw (885.8,267.5) -- (893,267) (888,266.5) -- (892,266.5);
\draw (898.8,268.8) -- (898.8,266.3) -- (907,266.3) -- (907,268.8);
\draw (910.5,268.8) -- (912,266.3) -- (917,266.3) -- (918,268.8);
\draw (922.5,268) -- (925,267) -- (927,268) (926,267.2) -- (930,265.8);
\draw (934.2,268) -- (937,267) -- (939,268) (938,267.2) -- (942,265.8);
\draw (945.8,268.8) -- (945.8,266.3) -- (948.5,266.3) -- (948.5,268.8) (950.3,268.8) -- (950.3,266.3) -- (953,266.3) -- (953,268.8);
\end{scope}
\end{tikzpicture}
\end{document}
